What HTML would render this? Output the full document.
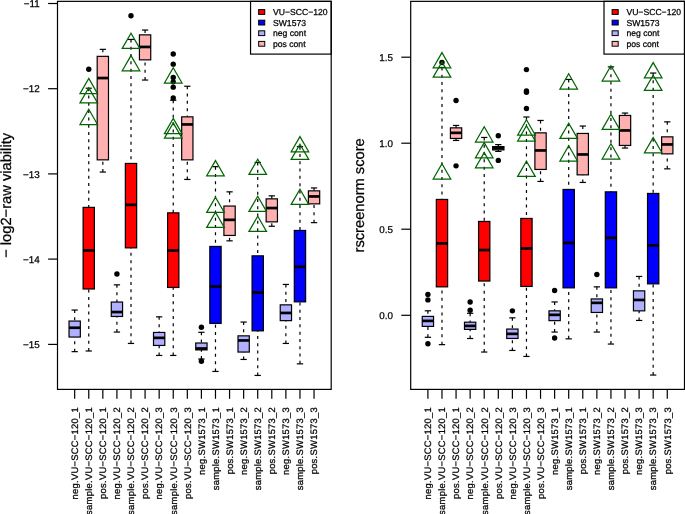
<!DOCTYPE html>
<html><head><meta charset="utf-8"><style>
html,body{margin:0;padding:0;background:#fff;}
svg{display:block;}
#w{width:685px;height:514px;will-change:transform;}
text{font-family:"Liberation Sans",sans-serif;text-rendering:geometricPrecision;fill:#000;stroke:#000;stroke-width:0.25px;}
.axt{font-size:9.85px;}
.lab{font-size:9.4px;letter-spacing:0.28px;}
.tt{font-size:14.7px;}
.lgt{font-size:8.64px;}
.frame{fill:none;stroke:#000;stroke-width:1.2;}
.ax{stroke:#000;stroke-width:1.2;}
.wh{stroke:#000;stroke-width:1.2;stroke-dasharray:3.0 4.3;}
.st{stroke:#000;stroke-width:1.2;}
.bx{stroke:#000;stroke-width:1.2;}
.md{stroke:#000;stroke-width:2.7;}
.dot{fill:#000;}
.tri{fill:none;stroke:#006400;stroke-width:1.25;stroke-linejoin:miter;}
.lg{stroke:#000;stroke-width:1;}
</style></head><body>
<div id="w"><svg width="685" height="514" viewBox="0 0 685 514">
<rect width="685" height="514" fill="#fff"/>
<rect x="57.5" y="1.35" width="273.70" height="388.05" class="frame"/>
<line x1="48.10" y1="3.5" x2="57.5" y2="3.5" class="ax"/>
<text x="39.70" y="7.20" text-anchor="end" class="axt">−11</text>
<line x1="48.10" y1="88.7" x2="57.5" y2="88.7" class="ax"/>
<text x="39.70" y="92.40" text-anchor="end" class="axt">−12</text>
<line x1="48.10" y1="173.9" x2="57.5" y2="173.9" class="ax"/>
<text x="39.70" y="177.60" text-anchor="end" class="axt">−13</text>
<line x1="48.10" y1="259.1" x2="57.5" y2="259.1" class="ax"/>
<text x="39.70" y="262.80" text-anchor="end" class="axt">−14</text>
<line x1="48.10" y1="344.4" x2="57.5" y2="344.4" class="ax"/>
<text x="39.70" y="348.10" text-anchor="end" class="axt">−15</text>
<line x1="74.68" y1="389.4" x2="74.68" y2="398.80" class="ax"/>
<text transform="translate(77.98,406.9) rotate(-90)" text-anchor="end" class="lab">neg.VU−SCC−120_1</text>
<line x1="88.76" y1="389.4" x2="88.76" y2="398.80" class="ax"/>
<text transform="translate(92.06,406.9) rotate(-90)" text-anchor="end" class="lab">sample.VU−SCC−120_1</text>
<line x1="102.84" y1="389.4" x2="102.84" y2="398.80" class="ax"/>
<text transform="translate(106.14,406.9) rotate(-90)" text-anchor="end" class="lab">pos.VU−SCC−120_1</text>
<line x1="116.92" y1="389.4" x2="116.92" y2="398.80" class="ax"/>
<text transform="translate(120.22,406.9) rotate(-90)" text-anchor="end" class="lab">neg.VU−SCC−120_2</text>
<line x1="131.00" y1="389.4" x2="131.00" y2="398.80" class="ax"/>
<text transform="translate(134.30,406.9) rotate(-90)" text-anchor="end" class="lab">sample.VU−SCC−120_2</text>
<line x1="145.08" y1="389.4" x2="145.08" y2="398.80" class="ax"/>
<text transform="translate(148.38,406.9) rotate(-90)" text-anchor="end" class="lab">pos.VU−SCC−120_2</text>
<line x1="159.16" y1="389.4" x2="159.16" y2="398.80" class="ax"/>
<text transform="translate(162.46,406.9) rotate(-90)" text-anchor="end" class="lab">neg.VU−SCC−120_3</text>
<line x1="173.24" y1="389.4" x2="173.24" y2="398.80" class="ax"/>
<text transform="translate(176.54,406.9) rotate(-90)" text-anchor="end" class="lab">sample.VU−SCC−120_3</text>
<line x1="187.32" y1="389.4" x2="187.32" y2="398.80" class="ax"/>
<text transform="translate(190.62,406.9) rotate(-90)" text-anchor="end" class="lab">pos.VU−SCC−120_3</text>
<line x1="201.40" y1="389.4" x2="201.40" y2="398.80" class="ax"/>
<text transform="translate(204.70,406.9) rotate(-90)" text-anchor="end" class="lab">neg.SW1573_1</text>
<line x1="215.48" y1="389.4" x2="215.48" y2="398.80" class="ax"/>
<text transform="translate(218.78,406.9) rotate(-90)" text-anchor="end" class="lab">sample.SW1573_1</text>
<line x1="229.56" y1="389.4" x2="229.56" y2="398.80" class="ax"/>
<text transform="translate(232.86,406.9) rotate(-90)" text-anchor="end" class="lab">pos.SW1573_1</text>
<line x1="243.64" y1="389.4" x2="243.64" y2="398.80" class="ax"/>
<text transform="translate(246.94,406.9) rotate(-90)" text-anchor="end" class="lab">neg.SW1573_2</text>
<line x1="257.72" y1="389.4" x2="257.72" y2="398.80" class="ax"/>
<text transform="translate(261.02,406.9) rotate(-90)" text-anchor="end" class="lab">sample.SW1573_2</text>
<line x1="271.80" y1="389.4" x2="271.80" y2="398.80" class="ax"/>
<text transform="translate(275.10,406.9) rotate(-90)" text-anchor="end" class="lab">pos.SW1573_2</text>
<line x1="285.88" y1="389.4" x2="285.88" y2="398.80" class="ax"/>
<text transform="translate(289.18,406.9) rotate(-90)" text-anchor="end" class="lab">neg.SW1573_3</text>
<line x1="299.96" y1="389.4" x2="299.96" y2="398.80" class="ax"/>
<text transform="translate(303.26,406.9) rotate(-90)" text-anchor="end" class="lab">sample.SW1573_3</text>
<line x1="314.04" y1="389.4" x2="314.04" y2="398.80" class="ax"/>
<text transform="translate(317.34,406.9) rotate(-90)" text-anchor="end" class="lab">pos.SW1573_3</text>
<text transform="translate(10.50,195.38) rotate(-90)" text-anchor="middle" class="tt">− log2−raw viability</text>
<rect x="250.55" y="1.35" width="80.65" height="52.75" class="frame"/>
<rect x="258.65" y="9.60" width="6.1" height="4.8" fill="#FF0000" class="lg"/>
<text x="272.95" y="15.10" class="lgt">VU−SCC−120</text>
<rect x="258.65" y="20.20" width="6.1" height="4.8" fill="#0000FF" class="lg"/>
<text x="272.95" y="25.70" class="lgt">SW1573</text>
<rect x="258.65" y="30.80" width="6.1" height="4.8" fill="#B0B0FF" class="lg"/>
<text x="272.95" y="36.30" class="lgt">neg cont</text>
<rect x="258.65" y="41.40" width="6.1" height="4.8" fill="#FFB0B0" class="lg"/>
<text x="272.95" y="46.90" class="lgt">pos cont</text>
<line x1="74.68" y1="310.05" x2="74.68" y2="321.05" class="wh"/>
<line x1="74.68" y1="351.65" x2="74.68" y2="337.05" class="wh"/>
<line x1="71.53" y1="310.05" x2="77.83" y2="310.05" class="st"/>
<line x1="71.53" y1="351.65" x2="77.83" y2="351.65" class="st"/>
<rect x="69.03" y="321.05" width="11.30" height="16.00" fill="#B0B0FF" class="bx"/>
<line x1="69.03" y1="327.75" x2="80.33" y2="327.75" class="md"/>
<line x1="88.76" y1="88.20" x2="88.76" y2="207.40" class="wh"/>
<line x1="88.76" y1="351.00" x2="88.76" y2="289.00" class="wh"/>
<line x1="85.61" y1="88.20" x2="91.91" y2="88.20" class="st"/>
<line x1="85.61" y1="351.00" x2="91.91" y2="351.00" class="st"/>
<rect x="83.11" y="207.40" width="11.30" height="81.60" fill="#FF0000" class="bx"/>
<line x1="83.11" y1="250.40" x2="94.41" y2="250.40" class="md"/>
<circle cx="88.76" cy="69.20" r="2.7" class="dot"/>
<line x1="102.84" y1="49.35" x2="102.84" y2="56.35" class="wh"/>
<line x1="102.84" y1="172.05" x2="102.84" y2="159.85" class="wh"/>
<line x1="99.69" y1="49.35" x2="105.99" y2="49.35" class="st"/>
<line x1="99.69" y1="172.05" x2="105.99" y2="172.05" class="st"/>
<rect x="97.19" y="56.35" width="11.30" height="103.50" fill="#FFB0B0" class="bx"/>
<line x1="97.19" y1="78.05" x2="108.49" y2="78.05" class="md"/>
<line x1="116.92" y1="284.85" x2="116.92" y2="302.05" class="wh"/>
<line x1="116.92" y1="332.05" x2="116.92" y2="316.45" class="wh"/>
<line x1="113.77" y1="284.85" x2="120.07" y2="284.85" class="st"/>
<line x1="113.77" y1="332.05" x2="120.07" y2="332.05" class="st"/>
<rect x="111.27" y="302.05" width="11.30" height="14.40" fill="#B0B0FF" class="bx"/>
<line x1="111.27" y1="312.05" x2="122.57" y2="312.05" class="md"/>
<circle cx="116.92" cy="274.05" r="2.7" class="dot"/>
<line x1="131.00" y1="39.45" x2="131.00" y2="163.45" class="wh"/>
<line x1="131.00" y1="343.45" x2="131.00" y2="247.85" class="wh"/>
<line x1="127.85" y1="39.45" x2="134.15" y2="39.45" class="st"/>
<line x1="127.85" y1="343.45" x2="134.15" y2="343.45" class="st"/>
<rect x="125.35" y="163.45" width="11.30" height="84.40" fill="#FF0000" class="bx"/>
<line x1="125.35" y1="204.85" x2="136.65" y2="204.85" class="md"/>
<circle cx="131.00" cy="15.80" r="2.7" class="dot"/>
<line x1="145.08" y1="30.05" x2="145.08" y2="34.85" class="wh"/>
<line x1="145.08" y1="80.05" x2="145.08" y2="59.85" class="wh"/>
<line x1="141.93" y1="30.05" x2="148.23" y2="30.05" class="st"/>
<line x1="141.93" y1="80.05" x2="148.23" y2="80.05" class="st"/>
<rect x="139.43" y="34.85" width="11.30" height="25.00" fill="#FFB0B0" class="bx"/>
<line x1="139.43" y1="46.95" x2="150.73" y2="46.95" class="md"/>
<line x1="159.16" y1="316.85" x2="159.16" y2="332.45" class="wh"/>
<line x1="159.16" y1="355.45" x2="159.16" y2="345.45" class="wh"/>
<line x1="156.01" y1="316.85" x2="162.31" y2="316.85" class="st"/>
<line x1="156.01" y1="355.45" x2="162.31" y2="355.45" class="st"/>
<rect x="153.51" y="332.45" width="11.30" height="13.00" fill="#B0B0FF" class="bx"/>
<line x1="153.51" y1="337.85" x2="164.81" y2="337.85" class="md"/>
<line x1="173.24" y1="100.25" x2="173.24" y2="212.85" class="wh"/>
<line x1="173.24" y1="355.45" x2="173.24" y2="287.45" class="wh"/>
<line x1="170.09" y1="100.25" x2="176.39" y2="100.25" class="st"/>
<line x1="170.09" y1="355.45" x2="176.39" y2="355.45" class="st"/>
<rect x="167.59" y="212.85" width="11.30" height="74.60" fill="#FF0000" class="bx"/>
<line x1="167.59" y1="250.45" x2="178.89" y2="250.45" class="md"/>
<circle cx="173.24" cy="54.05" r="2.7" class="dot"/>
<circle cx="173.24" cy="64.15" r="2.7" class="dot"/>
<circle cx="173.24" cy="77.45" r="2.7" class="dot"/>
<circle cx="173.24" cy="81.85" r="2.7" class="dot"/>
<circle cx="173.24" cy="87.15" r="2.7" class="dot"/>
<circle cx="173.24" cy="98.05" r="2.7" class="dot"/>
<line x1="187.32" y1="86.25" x2="187.32" y2="116.85" class="wh"/>
<line x1="187.32" y1="179.45" x2="187.32" y2="159.85" class="wh"/>
<line x1="184.17" y1="86.25" x2="190.47" y2="86.25" class="st"/>
<line x1="184.17" y1="179.45" x2="190.47" y2="179.45" class="st"/>
<rect x="181.67" y="116.85" width="11.30" height="43.00" fill="#FFB0B0" class="bx"/>
<line x1="181.67" y1="124.45" x2="192.97" y2="124.45" class="md"/>
<line x1="201.40" y1="332.30" x2="201.40" y2="343.00" class="wh"/>
<line x1="201.40" y1="359.00" x2="201.40" y2="349.90" class="wh"/>
<line x1="198.25" y1="332.30" x2="204.55" y2="332.30" class="st"/>
<line x1="198.25" y1="359.00" x2="204.55" y2="359.00" class="st"/>
<rect x="195.75" y="343.00" width="11.30" height="6.90" fill="#B0B0FF" class="bx"/>
<line x1="195.75" y1="348.50" x2="207.05" y2="348.50" class="md"/>
<circle cx="201.40" cy="327.30" r="2.7" class="dot"/>
<circle cx="201.40" cy="361.30" r="2.7" class="dot"/>
<line x1="215.48" y1="166.65" x2="215.48" y2="246.45" class="wh"/>
<line x1="215.48" y1="371.45" x2="215.48" y2="323.45" class="wh"/>
<line x1="212.33" y1="166.65" x2="218.63" y2="166.65" class="st"/>
<line x1="212.33" y1="371.45" x2="218.63" y2="371.45" class="st"/>
<rect x="209.83" y="246.45" width="11.30" height="77.00" fill="#0000FF" class="bx"/>
<line x1="209.83" y1="286.45" x2="221.13" y2="286.45" class="md"/>
<line x1="229.56" y1="191.85" x2="229.56" y2="206.05" class="wh"/>
<line x1="229.56" y1="240.85" x2="229.56" y2="235.45" class="wh"/>
<line x1="226.41" y1="191.85" x2="232.71" y2="191.85" class="st"/>
<line x1="226.41" y1="240.85" x2="232.71" y2="240.85" class="st"/>
<rect x="223.91" y="206.05" width="11.30" height="29.40" fill="#FFB0B0" class="bx"/>
<line x1="223.91" y1="219.85" x2="235.21" y2="219.85" class="md"/>
<line x1="243.64" y1="322.05" x2="243.64" y2="335.85" class="wh"/>
<line x1="243.64" y1="359.45" x2="243.64" y2="352.05" class="wh"/>
<line x1="240.49" y1="322.05" x2="246.79" y2="322.05" class="st"/>
<line x1="240.49" y1="359.45" x2="246.79" y2="359.45" class="st"/>
<rect x="237.99" y="335.85" width="11.30" height="16.20" fill="#B0B0FF" class="bx"/>
<line x1="237.99" y1="340.45" x2="249.29" y2="340.45" class="md"/>
<line x1="257.72" y1="162.45" x2="257.72" y2="255.85" class="wh"/>
<line x1="257.72" y1="375.45" x2="257.72" y2="330.85" class="wh"/>
<line x1="254.57" y1="162.45" x2="260.87" y2="162.45" class="st"/>
<line x1="254.57" y1="375.45" x2="260.87" y2="375.45" class="st"/>
<rect x="252.07" y="255.85" width="11.30" height="75.00" fill="#0000FF" class="bx"/>
<line x1="252.07" y1="292.45" x2="263.37" y2="292.45" class="md"/>
<line x1="271.80" y1="195.85" x2="271.80" y2="198.85" class="wh"/>
<line x1="271.80" y1="226.25" x2="271.80" y2="221.85" class="wh"/>
<line x1="268.65" y1="195.85" x2="274.95" y2="195.85" class="st"/>
<line x1="268.65" y1="226.25" x2="274.95" y2="226.25" class="st"/>
<rect x="266.15" y="198.85" width="11.30" height="23.00" fill="#FFB0B0" class="bx"/>
<line x1="266.15" y1="208.05" x2="277.45" y2="208.05" class="md"/>
<line x1="285.88" y1="284.45" x2="285.88" y2="304.85" class="wh"/>
<line x1="285.88" y1="343.45" x2="285.88" y2="320.65" class="wh"/>
<line x1="282.73" y1="284.45" x2="289.03" y2="284.45" class="st"/>
<line x1="282.73" y1="343.45" x2="289.03" y2="343.45" class="st"/>
<rect x="280.23" y="304.85" width="11.30" height="15.80" fill="#B0B0FF" class="bx"/>
<line x1="280.23" y1="312.95" x2="291.53" y2="312.95" class="md"/>
<line x1="299.96" y1="146.65" x2="299.96" y2="230.45" class="wh"/>
<line x1="299.96" y1="363.85" x2="299.96" y2="301.85" class="wh"/>
<line x1="296.81" y1="146.65" x2="303.11" y2="146.65" class="st"/>
<line x1="296.81" y1="363.85" x2="303.11" y2="363.85" class="st"/>
<rect x="294.31" y="230.45" width="11.30" height="71.40" fill="#0000FF" class="bx"/>
<line x1="294.31" y1="266.85" x2="305.61" y2="266.85" class="md"/>
<line x1="314.04" y1="187.95" x2="314.04" y2="190.85" class="wh"/>
<line x1="314.04" y1="222.65" x2="314.04" y2="203.85" class="wh"/>
<line x1="310.89" y1="187.95" x2="317.19" y2="187.95" class="st"/>
<line x1="310.89" y1="222.65" x2="317.19" y2="222.65" class="st"/>
<rect x="308.39" y="190.85" width="11.30" height="13.00" fill="#FFB0B0" class="bx"/>
<line x1="308.39" y1="196.45" x2="319.69" y2="196.45" class="md"/>
<path d="M88.76 78.40L97.54 93.60L79.98 93.60Z" class="tri"/>
<path d="M88.76 87.70L97.54 102.90L79.98 102.90Z" class="tri"/>
<path d="M88.76 109.30L97.54 124.50L79.98 124.50Z" class="tri"/>
<path d="M131.00 33.20L139.78 48.40L122.22 48.40Z" class="tri"/>
<path d="M131.00 55.60L139.78 70.80L122.22 70.80Z" class="tri"/>
<path d="M173.24 67.80L182.02 83.00L164.46 83.00Z" class="tri"/>
<path d="M173.24 118.40L182.02 133.60L164.46 133.60Z" class="tri"/>
<path d="M173.24 122.90L182.02 138.10L164.46 138.10Z" class="tri"/>
<path d="M215.48 160.60L224.26 175.80L206.70 175.80Z" class="tri"/>
<path d="M215.48 197.20L224.26 212.40L206.70 212.40Z" class="tri"/>
<path d="M215.48 212.20L224.26 227.40L206.70 227.40Z" class="tri"/>
<path d="M257.72 159.20L266.50 174.40L248.94 174.40Z" class="tri"/>
<path d="M257.72 196.20L266.50 211.40L248.94 211.40Z" class="tri"/>
<path d="M257.72 216.20L266.50 231.40L248.94 231.40Z" class="tri"/>
<path d="M299.96 136.60L308.74 151.80L291.18 151.80Z" class="tri"/>
<path d="M299.96 144.20L308.74 159.40L291.18 159.40Z" class="tri"/>
<path d="M299.96 189.20L308.74 204.40L291.18 204.40Z" class="tri"/>
<rect x="410.7" y="1.35" width="273.80" height="388.05" class="frame"/>
<line x1="401.30" y1="315.3" x2="410.7" y2="315.3" class="ax"/>
<text x="392.90" y="319.00" text-anchor="end" class="axt">0.0</text>
<line x1="401.30" y1="229.2" x2="410.7" y2="229.2" class="ax"/>
<text x="392.90" y="232.90" text-anchor="end" class="axt">0.5</text>
<line x1="401.30" y1="143.2" x2="410.7" y2="143.2" class="ax"/>
<text x="392.90" y="146.90" text-anchor="end" class="axt">1.0</text>
<line x1="401.30" y1="57.2" x2="410.7" y2="57.2" class="ax"/>
<text x="392.90" y="60.90" text-anchor="end" class="axt">1.5</text>
<line x1="427.90" y1="389.4" x2="427.90" y2="398.80" class="ax"/>
<text transform="translate(431.20,406.9) rotate(-90)" text-anchor="end" class="lab">neg.VU−SCC−120_1</text>
<line x1="441.98" y1="389.4" x2="441.98" y2="398.80" class="ax"/>
<text transform="translate(445.28,406.9) rotate(-90)" text-anchor="end" class="lab">sample.VU−SCC−120_1</text>
<line x1="456.06" y1="389.4" x2="456.06" y2="398.80" class="ax"/>
<text transform="translate(459.36,406.9) rotate(-90)" text-anchor="end" class="lab">pos.VU−SCC−120_1</text>
<line x1="470.14" y1="389.4" x2="470.14" y2="398.80" class="ax"/>
<text transform="translate(473.44,406.9) rotate(-90)" text-anchor="end" class="lab">neg.VU−SCC−120_2</text>
<line x1="484.22" y1="389.4" x2="484.22" y2="398.80" class="ax"/>
<text transform="translate(487.52,406.9) rotate(-90)" text-anchor="end" class="lab">sample.VU−SCC−120_2</text>
<line x1="498.30" y1="389.4" x2="498.30" y2="398.80" class="ax"/>
<text transform="translate(501.60,406.9) rotate(-90)" text-anchor="end" class="lab">pos.VU−SCC−120_2</text>
<line x1="512.38" y1="389.4" x2="512.38" y2="398.80" class="ax"/>
<text transform="translate(515.68,406.9) rotate(-90)" text-anchor="end" class="lab">neg.VU−SCC−120_3</text>
<line x1="526.46" y1="389.4" x2="526.46" y2="398.80" class="ax"/>
<text transform="translate(529.76,406.9) rotate(-90)" text-anchor="end" class="lab">sample.VU−SCC−120_3</text>
<line x1="540.54" y1="389.4" x2="540.54" y2="398.80" class="ax"/>
<text transform="translate(543.84,406.9) rotate(-90)" text-anchor="end" class="lab">pos.VU−SCC−120_3</text>
<line x1="554.62" y1="389.4" x2="554.62" y2="398.80" class="ax"/>
<text transform="translate(557.92,406.9) rotate(-90)" text-anchor="end" class="lab">neg.SW1573_1</text>
<line x1="568.70" y1="389.4" x2="568.70" y2="398.80" class="ax"/>
<text transform="translate(572.00,406.9) rotate(-90)" text-anchor="end" class="lab">sample.SW1573_1</text>
<line x1="582.78" y1="389.4" x2="582.78" y2="398.80" class="ax"/>
<text transform="translate(586.08,406.9) rotate(-90)" text-anchor="end" class="lab">pos.SW1573_1</text>
<line x1="596.86" y1="389.4" x2="596.86" y2="398.80" class="ax"/>
<text transform="translate(600.16,406.9) rotate(-90)" text-anchor="end" class="lab">neg.SW1573_2</text>
<line x1="610.94" y1="389.4" x2="610.94" y2="398.80" class="ax"/>
<text transform="translate(614.24,406.9) rotate(-90)" text-anchor="end" class="lab">sample.SW1573_2</text>
<line x1="625.02" y1="389.4" x2="625.02" y2="398.80" class="ax"/>
<text transform="translate(628.32,406.9) rotate(-90)" text-anchor="end" class="lab">pos.SW1573_2</text>
<line x1="639.10" y1="389.4" x2="639.10" y2="398.80" class="ax"/>
<text transform="translate(642.40,406.9) rotate(-90)" text-anchor="end" class="lab">neg.SW1573_3</text>
<line x1="653.18" y1="389.4" x2="653.18" y2="398.80" class="ax"/>
<text transform="translate(656.48,406.9) rotate(-90)" text-anchor="end" class="lab">sample.SW1573_3</text>
<line x1="667.26" y1="389.4" x2="667.26" y2="398.80" class="ax"/>
<text transform="translate(670.56,406.9) rotate(-90)" text-anchor="end" class="lab">pos.SW1573_3</text>
<text transform="translate(363.70,195.38) rotate(-90)" text-anchor="middle" class="tt">rscreenorm score</text>
<rect x="604.00" y="1.35" width="80.50" height="52.75" class="frame"/>
<rect x="612.10" y="9.60" width="6.1" height="4.8" fill="#FF0000" class="lg"/>
<text x="626.40" y="15.10" class="lgt">VU−SCC−120</text>
<rect x="612.10" y="20.20" width="6.1" height="4.8" fill="#0000FF" class="lg"/>
<text x="626.40" y="25.70" class="lgt">SW1573</text>
<rect x="612.10" y="30.80" width="6.1" height="4.8" fill="#B0B0FF" class="lg"/>
<text x="626.40" y="36.30" class="lgt">neg cont</text>
<rect x="612.10" y="41.40" width="6.1" height="4.8" fill="#FFB0B0" class="lg"/>
<text x="626.40" y="46.90" class="lgt">pos cont</text>
<line x1="427.90" y1="310.80" x2="427.90" y2="316.40" class="wh"/>
<line x1="427.90" y1="337.30" x2="427.90" y2="326.40" class="wh"/>
<line x1="424.75" y1="310.80" x2="431.05" y2="310.80" class="st"/>
<line x1="424.75" y1="337.30" x2="431.05" y2="337.30" class="st"/>
<rect x="422.25" y="316.40" width="11.30" height="10.00" fill="#B0B0FF" class="bx"/>
<line x1="422.25" y1="320.90" x2="433.55" y2="320.90" class="md"/>
<circle cx="427.90" cy="294.40" r="2.7" class="dot"/>
<circle cx="427.90" cy="299.90" r="2.7" class="dot"/>
<circle cx="427.90" cy="343.80" r="2.7" class="dot"/>
<line x1="441.98" y1="67.45" x2="441.98" y2="199.45" class="wh"/>
<line x1="441.98" y1="344.65" x2="441.98" y2="286.85" class="wh"/>
<line x1="438.83" y1="67.45" x2="445.13" y2="67.45" class="st"/>
<line x1="438.83" y1="344.65" x2="445.13" y2="344.65" class="st"/>
<rect x="436.33" y="199.45" width="11.30" height="87.40" fill="#FF0000" class="bx"/>
<line x1="436.33" y1="243.45" x2="447.63" y2="243.45" class="md"/>
<circle cx="441.98" cy="62.50" r="2.7" class="dot"/>
<line x1="456.06" y1="125.45" x2="456.06" y2="127.85" class="wh"/>
<line x1="456.06" y1="140.45" x2="456.06" y2="138.45" class="wh"/>
<line x1="452.91" y1="125.45" x2="459.21" y2="125.45" class="st"/>
<line x1="452.91" y1="140.45" x2="459.21" y2="140.45" class="st"/>
<rect x="450.41" y="127.85" width="11.30" height="10.60" fill="#FFB0B0" class="bx"/>
<line x1="450.41" y1="132.85" x2="461.71" y2="132.85" class="md"/>
<circle cx="456.06" cy="100.45" r="2.7" class="dot"/>
<circle cx="456.06" cy="165.85" r="2.7" class="dot"/>
<line x1="470.14" y1="313.30" x2="470.14" y2="322.20" class="wh"/>
<line x1="470.14" y1="338.50" x2="470.14" y2="329.40" class="wh"/>
<line x1="466.99" y1="313.30" x2="473.29" y2="313.30" class="st"/>
<line x1="466.99" y1="338.50" x2="473.29" y2="338.50" class="st"/>
<rect x="464.49" y="322.20" width="11.30" height="7.20" fill="#B0B0FF" class="bx"/>
<line x1="464.49" y1="325.90" x2="475.79" y2="325.90" class="md"/>
<circle cx="470.14" cy="302.00" r="2.7" class="dot"/>
<circle cx="470.14" cy="310.20" r="2.7" class="dot"/>
<line x1="484.22" y1="137.45" x2="484.22" y2="221.45" class="wh"/>
<line x1="484.22" y1="352.05" x2="484.22" y2="281.05" class="wh"/>
<line x1="481.07" y1="137.45" x2="487.37" y2="137.45" class="st"/>
<line x1="481.07" y1="352.05" x2="487.37" y2="352.05" class="st"/>
<rect x="478.57" y="221.45" width="11.30" height="59.60" fill="#FF0000" class="bx"/>
<line x1="478.57" y1="250.05" x2="489.87" y2="250.05" class="md"/>
<line x1="498.30" y1="144.60" x2="498.30" y2="146.60" class="wh"/>
<line x1="498.30" y1="151.40" x2="498.30" y2="149.90" class="wh"/>
<line x1="495.15" y1="144.60" x2="501.45" y2="144.60" class="st"/>
<line x1="495.15" y1="151.40" x2="501.45" y2="151.40" class="st"/>
<rect x="492.65" y="146.60" width="11.30" height="3.30" fill="#FFB0B0" class="bx"/>
<line x1="492.65" y1="148.20" x2="503.95" y2="148.20" class="md"/>
<circle cx="498.30" cy="135.70" r="2.7" class="dot"/>
<circle cx="498.30" cy="160.40" r="2.7" class="dot"/>
<line x1="512.38" y1="317.85" x2="512.38" y2="329.05" class="wh"/>
<line x1="512.38" y1="350.45" x2="512.38" y2="338.45" class="wh"/>
<line x1="509.23" y1="317.85" x2="515.53" y2="317.85" class="st"/>
<line x1="509.23" y1="350.45" x2="515.53" y2="350.45" class="st"/>
<rect x="506.73" y="329.05" width="11.30" height="9.40" fill="#B0B0FF" class="bx"/>
<line x1="506.73" y1="333.85" x2="518.03" y2="333.85" class="md"/>
<circle cx="512.38" cy="310.85" r="2.7" class="dot"/>
<line x1="526.46" y1="117.00" x2="526.46" y2="218.45" class="wh"/>
<line x1="526.46" y1="356.45" x2="526.46" y2="286.45" class="wh"/>
<line x1="523.31" y1="117.00" x2="529.61" y2="117.00" class="st"/>
<line x1="523.31" y1="356.45" x2="529.61" y2="356.45" class="st"/>
<rect x="520.81" y="218.45" width="11.30" height="68.00" fill="#FF0000" class="bx"/>
<line x1="520.81" y1="248.45" x2="532.11" y2="248.45" class="md"/>
<circle cx="526.46" cy="69.60" r="2.7" class="dot"/>
<circle cx="526.46" cy="90.90" r="2.7" class="dot"/>
<circle cx="526.46" cy="92.30" r="2.7" class="dot"/>
<circle cx="526.46" cy="108.50" r="2.7" class="dot"/>
<line x1="540.54" y1="120.45" x2="540.54" y2="132.85" class="wh"/>
<line x1="540.54" y1="181.45" x2="540.54" y2="169.45" class="wh"/>
<line x1="537.39" y1="120.45" x2="543.69" y2="120.45" class="st"/>
<line x1="537.39" y1="181.45" x2="543.69" y2="181.45" class="st"/>
<rect x="534.89" y="132.85" width="11.30" height="36.60" fill="#FFB0B0" class="bx"/>
<line x1="534.89" y1="150.45" x2="546.19" y2="150.45" class="md"/>
<line x1="554.62" y1="301.95" x2="554.62" y2="310.85" class="wh"/>
<line x1="554.62" y1="332.05" x2="554.62" y2="320.65" class="wh"/>
<line x1="551.47" y1="301.95" x2="557.77" y2="301.95" class="st"/>
<line x1="551.47" y1="332.05" x2="557.77" y2="332.05" class="st"/>
<rect x="548.97" y="310.85" width="11.30" height="9.80" fill="#B0B0FF" class="bx"/>
<line x1="548.97" y1="314.85" x2="560.27" y2="314.85" class="md"/>
<circle cx="554.62" cy="290.45" r="2.7" class="dot"/>
<circle cx="554.62" cy="338.05" r="2.7" class="dot"/>
<line x1="568.70" y1="79.45" x2="568.70" y2="189.45" class="wh"/>
<line x1="568.70" y1="338.85" x2="568.70" y2="287.85" class="wh"/>
<line x1="565.55" y1="79.45" x2="571.85" y2="79.45" class="st"/>
<line x1="565.55" y1="338.85" x2="571.85" y2="338.85" class="st"/>
<rect x="563.05" y="189.45" width="11.30" height="98.40" fill="#0000FF" class="bx"/>
<line x1="563.05" y1="242.95" x2="574.35" y2="242.95" class="md"/>
<line x1="582.78" y1="126.05" x2="582.78" y2="133.45" class="wh"/>
<line x1="582.78" y1="182.45" x2="582.78" y2="174.85" class="wh"/>
<line x1="579.63" y1="126.05" x2="585.93" y2="126.05" class="st"/>
<line x1="579.63" y1="182.45" x2="585.93" y2="182.45" class="st"/>
<rect x="577.13" y="133.45" width="11.30" height="41.40" fill="#FFB0B0" class="bx"/>
<line x1="577.13" y1="154.45" x2="588.43" y2="154.45" class="md"/>
<line x1="596.86" y1="286.85" x2="596.86" y2="298.95" class="wh"/>
<line x1="596.86" y1="332.05" x2="596.86" y2="312.45" class="wh"/>
<line x1="593.71" y1="286.85" x2="600.01" y2="286.85" class="st"/>
<line x1="593.71" y1="332.05" x2="600.01" y2="332.05" class="st"/>
<rect x="591.21" y="298.95" width="11.30" height="13.50" fill="#B0B0FF" class="bx"/>
<line x1="591.21" y1="302.85" x2="602.51" y2="302.85" class="md"/>
<circle cx="596.86" cy="274.45" r="2.7" class="dot"/>
<line x1="610.94" y1="66.85" x2="610.94" y2="191.85" class="wh"/>
<line x1="610.94" y1="344.05" x2="610.94" y2="287.85" class="wh"/>
<line x1="607.79" y1="66.85" x2="614.09" y2="66.85" class="st"/>
<line x1="607.79" y1="344.05" x2="614.09" y2="344.05" class="st"/>
<rect x="605.29" y="191.85" width="11.30" height="96.00" fill="#0000FF" class="bx"/>
<line x1="605.29" y1="237.85" x2="616.59" y2="237.85" class="md"/>
<line x1="625.02" y1="113.05" x2="625.02" y2="115.45" class="wh"/>
<line x1="625.02" y1="148.05" x2="625.02" y2="145.45" class="wh"/>
<line x1="621.87" y1="113.05" x2="628.17" y2="113.05" class="st"/>
<line x1="621.87" y1="148.05" x2="628.17" y2="148.05" class="st"/>
<rect x="619.37" y="115.45" width="11.30" height="30.00" fill="#FFB0B0" class="bx"/>
<line x1="619.37" y1="130.45" x2="630.67" y2="130.45" class="md"/>
<line x1="639.10" y1="276.45" x2="639.10" y2="290.85" class="wh"/>
<line x1="639.10" y1="320.45" x2="639.10" y2="310.85" class="wh"/>
<line x1="635.95" y1="276.45" x2="642.25" y2="276.45" class="st"/>
<line x1="635.95" y1="320.45" x2="642.25" y2="320.45" class="st"/>
<rect x="633.45" y="290.85" width="11.30" height="20.00" fill="#B0B0FF" class="bx"/>
<line x1="633.45" y1="299.95" x2="644.75" y2="299.95" class="md"/>
<line x1="653.18" y1="73.05" x2="653.18" y2="193.45" class="wh"/>
<line x1="653.18" y1="375.05" x2="653.18" y2="283.85" class="wh"/>
<line x1="650.03" y1="73.05" x2="656.33" y2="73.05" class="st"/>
<line x1="650.03" y1="375.05" x2="656.33" y2="375.05" class="st"/>
<rect x="647.53" y="193.45" width="11.30" height="90.40" fill="#0000FF" class="bx"/>
<line x1="647.53" y1="245.45" x2="658.83" y2="245.45" class="md"/>
<line x1="667.26" y1="121.85" x2="667.26" y2="136.85" class="wh"/>
<line x1="667.26" y1="168.85" x2="667.26" y2="153.85" class="wh"/>
<line x1="664.11" y1="121.85" x2="670.41" y2="121.85" class="st"/>
<line x1="664.11" y1="168.85" x2="670.41" y2="168.85" class="st"/>
<rect x="661.61" y="136.85" width="11.30" height="17.00" fill="#FFB0B0" class="bx"/>
<line x1="661.61" y1="144.45" x2="672.91" y2="144.45" class="md"/>
<path d="M441.98 52.60L450.76 67.80L433.20 67.80Z" class="tri"/>
<path d="M441.98 61.90L450.76 77.10L433.20 77.10Z" class="tri"/>
<path d="M441.98 163.80L450.76 179.00L433.20 179.00Z" class="tri"/>
<path d="M484.22 126.80L493.00 142.00L475.44 142.00Z" class="tri"/>
<path d="M484.22 142.60L493.00 157.80L475.44 157.80Z" class="tri"/>
<path d="M484.22 152.60L493.00 167.80L475.44 167.80Z" class="tri"/>
<path d="M526.46 119.80L535.24 135.00L517.68 135.00Z" class="tri"/>
<path d="M526.46 125.80L535.24 141.00L517.68 141.00Z" class="tri"/>
<path d="M526.46 161.20L535.24 176.40L517.68 176.40Z" class="tri"/>
<path d="M568.70 73.80L577.48 89.00L559.92 89.00Z" class="tri"/>
<path d="M568.70 123.20L577.48 138.40L559.92 138.40Z" class="tri"/>
<path d="M568.70 145.80L577.48 161.00L559.92 161.00Z" class="tri"/>
<path d="M610.94 65.80L619.72 81.00L602.16 81.00Z" class="tri"/>
<path d="M610.94 114.20L619.72 129.40L602.16 129.40Z" class="tri"/>
<path d="M610.94 143.80L619.72 159.00L602.16 159.00Z" class="tri"/>
<path d="M653.18 62.60L661.96 77.80L644.40 77.80Z" class="tri"/>
<path d="M653.18 75.20L661.96 90.40L644.40 90.40Z" class="tri"/>
<path d="M653.18 137.60L661.96 152.80L644.40 152.80Z" class="tri"/>
</svg></div>
</body></html>
